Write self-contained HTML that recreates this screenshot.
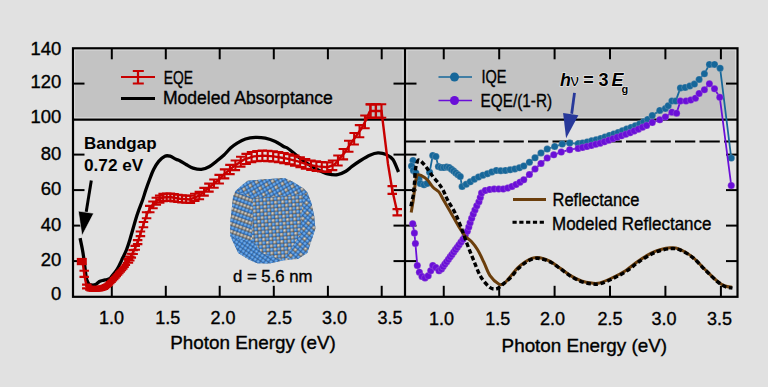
<!DOCTYPE html>
<html><head><meta charset="utf-8"><style>
html,body{margin:0;padding:0;background:#e1e1e1;width:768px;height:387px;overflow:hidden}
svg{display:block}
</style></head><body>
<svg width="768" height="387" viewBox="0 0 768 387">
<rect x="0" y="0" width="768" height="387" fill="#e1e1e1"/>
<rect x="74.5" y="49.8" width="661.5" height="68.3" fill="#c3c3c3" stroke="#ececec" stroke-width="1"/>
<path d="M403.2,50 V117.6 M406.8,50 V117.6" stroke="#e4e4e4" stroke-width="1"/>
<defs>
<radialGradient id="gb" cx="0.38" cy="0.35" r="0.7"><stop offset="0" stop-color="#8cc0f0"/><stop offset="0.55" stop-color="#3f84d2"/><stop offset="1" stop-color="#1d4f90"/></radialGradient>
<radialGradient id="gg" cx="0.38" cy="0.35" r="0.7"><stop offset="0" stop-color="#e2ded6"/><stop offset="0.55" stop-color="#959088"/><stop offset="1" stop-color="#4c4842"/></radialGradient>
<pattern id="pcheck" x="0" y="0" width="7.20" height="7.20" patternUnits="userSpaceOnUse" patternTransform="rotate(-4)"><rect width="7.20" height="7.20" fill="#5a6672"/><circle cx="1.80" cy="1.80" r="1.95" fill="url(#gb)"/><circle cx="5.40" cy="5.40" r="1.95" fill="url(#gb)"/><circle cx="5.40" cy="1.80" r="1.95" fill="url(#gg)"/><circle cx="1.80" cy="5.40" r="1.95" fill="url(#gg)"/></pattern>
<pattern id="pblue" x="0" y="0" width="3.60" height="3.60" patternUnits="userSpaceOnUse" patternTransform="rotate(35)"><rect width="3.60" height="3.60" fill="#5a6672"/><circle cx="1.80" cy="1.80" r="1.95" fill="url(#gb)"/></pattern>
<pattern id="pstripe" x="0" y="0" width="7.20" height="7.20" patternUnits="userSpaceOnUse" patternTransform="rotate(-30)"><rect width="7.20" height="7.20" fill="#5a6672"/><circle cx="1.80" cy="1.80" r="1.95" fill="url(#gb)"/><circle cx="5.40" cy="1.80" r="1.95" fill="url(#gb)"/><circle cx="1.80" cy="5.40" r="1.95" fill="url(#gg)"/><circle cx="5.40" cy="5.40" r="1.95" fill="url(#gb)"/></pattern>
<pattern id="pleft" x="0" y="0" width="3.60" height="7.20" patternUnits="userSpaceOnUse" patternTransform="rotate(20)"><rect width="3.60" height="7.20" fill="#5a6672"/><circle cx="1.80" cy="1.80" r="1.95" fill="url(#gg)"/><circle cx="1.80" cy="5.40" r="1.95" fill="url(#gb)"/></pattern>
<pattern id="pright" x="0" y="0" width="7.20" height="7.20" patternUnits="userSpaceOnUse" patternTransform="rotate(40)"><rect width="7.20" height="7.20" fill="#5a6672"/><circle cx="1.80" cy="1.80" r="1.95" fill="url(#gb)"/><circle cx="5.40" cy="5.40" r="1.95" fill="url(#gb)"/><circle cx="5.40" cy="1.80" r="1.95" fill="url(#gg)"/><circle cx="1.80" cy="5.40" r="1.95" fill="url(#gb)"/></pattern>
</defs>
<path d="M235.50,191.00 L242.30,184.90 L247.70,180.80 L262.60,179.40 L284.30,178.10 L292.40,181.50 L303.20,188.20 L307.30,192.30 L311.40,203.10 L314.10,215.40 L315.40,228.50 L312.70,236.80 L307.30,253.00 L297.80,259.10 L282.90,260.50 L269.40,263.60 L257.20,263.20 L249.10,259.80 L238.20,253.00 L230.10,235.40 L230.50,220.00 L231.50,211.30 L233.00,197.00 Z" fill="url(#pcheck)"/>
<path d="M235.50,191.00 L242.30,184.90 L247.70,180.80 L262.60,179.40 L284.30,178.10 L292.40,181.50 L303.20,188.20 L307.30,192.30 L303.00,195.00 L253.00,198.00 Z" fill="url(#pstripe)"/>
<path d="M235.50,191.00 L253.00,198.00 L252.00,240.00 L240.00,240.00 L230.10,235.40 L230.50,220.00 L231.50,211.30 L233.00,197.00 Z" fill="url(#pleft)"/>
<path d="M303.00,195.00 L307.30,192.30 L311.40,203.10 L314.10,215.40 L315.40,228.50 L312.70,236.80 L307.30,253.00 L297.80,259.10 L285.00,258.00 L300.00,235.00 Z" fill="url(#pright)"/>
<path d="M230.10,235.40 L240.00,240.00 L252.00,240.00 L262.00,253.00 L282.90,260.50 L269.40,263.60 L257.20,263.20 L249.10,259.80 L238.20,253.00 Z" fill="url(#pblue)"/>
<g stroke="#000" stroke-width="2.2" fill="none">
<rect x="73.0" y="48.3" width="664.5" height="248.5"/>
<line x1="405.0" y1="48.3" x2="405.0" y2="296.8"/>
<line x1="73.0" y1="119.6" x2="737.5" y2="119.6"/>
</g>
<g stroke="#000" stroke-width="2" fill="none">
<line x1="111.80" y1="296.8" x2="111.80" y2="285.8"/>
<line x1="111.80" y1="48.3" x2="111.80" y2="59.3"/>
<line x1="165.80" y1="296.8" x2="165.80" y2="285.8"/>
<line x1="165.80" y1="48.3" x2="165.80" y2="59.3"/>
<line x1="219.70" y1="296.8" x2="219.70" y2="285.8"/>
<line x1="219.70" y1="48.3" x2="219.70" y2="59.3"/>
<line x1="273.80" y1="296.8" x2="273.80" y2="285.8"/>
<line x1="273.80" y1="48.3" x2="273.80" y2="59.3"/>
<line x1="327.90" y1="296.8" x2="327.90" y2="285.8"/>
<line x1="327.90" y1="48.3" x2="327.90" y2="59.3"/>
<line x1="381.70" y1="296.8" x2="381.70" y2="285.8"/>
<line x1="381.70" y1="48.3" x2="381.70" y2="59.3"/>
<line x1="443.75" y1="296.8" x2="443.75" y2="285.8"/>
<line x1="443.75" y1="48.3" x2="443.75" y2="59.3"/>
<line x1="499.20" y1="296.8" x2="499.20" y2="285.8"/>
<line x1="499.20" y1="48.3" x2="499.20" y2="59.3"/>
<line x1="554.60" y1="296.8" x2="554.60" y2="285.8"/>
<line x1="554.60" y1="48.3" x2="554.60" y2="59.3"/>
<line x1="610.00" y1="296.8" x2="610.00" y2="285.8"/>
<line x1="610.00" y1="48.3" x2="610.00" y2="59.3"/>
<line x1="665.40" y1="296.8" x2="665.40" y2="285.8"/>
<line x1="665.40" y1="48.3" x2="665.40" y2="59.3"/>
<line x1="720.90" y1="296.8" x2="720.90" y2="285.8"/>
<line x1="720.90" y1="48.3" x2="720.90" y2="59.3"/>
<line x1="73.0" y1="83.60" x2="84.5" y2="83.60"/>
<line x1="393.5" y1="83.60" x2="416.5" y2="83.60"/>
<line x1="726.0" y1="83.60" x2="737.5" y2="83.60"/>
<line x1="73.0" y1="154.60" x2="84.5" y2="154.60"/>
<line x1="393.5" y1="154.60" x2="416.5" y2="154.60"/>
<line x1="726.0" y1="154.60" x2="737.5" y2="154.60"/>
<line x1="73.0" y1="190.10" x2="84.5" y2="190.10"/>
<line x1="393.5" y1="190.10" x2="416.5" y2="190.10"/>
<line x1="726.0" y1="190.10" x2="737.5" y2="190.10"/>
<line x1="73.0" y1="225.60" x2="84.5" y2="225.60"/>
<line x1="393.5" y1="225.60" x2="416.5" y2="225.60"/>
<line x1="726.0" y1="225.60" x2="737.5" y2="225.60"/>
<line x1="73.0" y1="261.10" x2="84.5" y2="261.10"/>
<line x1="393.5" y1="261.10" x2="416.5" y2="261.10"/>
<line x1="726.0" y1="261.10" x2="737.5" y2="261.10"/>
</g>
<path d="M80.10,238.20 C80.50,240.17 81.90,246.73 82.50,250.00 C83.10,253.27 83.30,254.97 83.70,257.80 C84.10,260.63 84.52,263.97 84.90,267.00 C85.28,270.03 85.67,273.83 86.00,276.00 C86.33,278.17 86.37,278.62 86.90,280.00 C87.43,281.38 88.42,283.47 89.20,284.30 C89.98,285.13 90.55,284.95 91.60,285.00 C92.65,285.05 94.20,285.18 95.50,284.60 C96.80,284.02 98.10,282.22 99.40,281.50 C100.70,280.78 102.02,280.62 103.30,280.30 C104.58,279.98 105.98,279.92 107.10,279.60 C108.22,279.28 109.25,278.93 110.00,278.40 C110.75,277.87 110.42,277.90 111.60,276.40 C112.78,274.90 115.42,272.12 117.10,269.40 C118.78,266.68 120.15,263.33 121.70,260.10 C123.25,256.87 125.05,253.35 126.40,250.00 C127.75,246.65 128.05,245.75 129.80,240.00 C131.55,234.25 134.77,222.17 136.90,215.50 C139.03,208.83 141.12,204.25 142.60,200.00 C144.08,195.75 144.67,193.33 145.80,190.00 C146.93,186.67 148.10,183.40 149.40,180.00 C150.70,176.60 152.05,172.70 153.60,169.60 C155.15,166.50 156.82,163.63 158.70,161.40 C160.58,159.17 163.00,157.07 164.90,156.20 C166.80,155.33 168.25,155.68 170.10,156.20 C171.95,156.72 174.38,158.55 176.00,159.30 C177.62,160.05 178.05,159.78 179.80,160.70 C181.55,161.62 184.28,163.57 186.50,164.80 C188.72,166.03 190.63,167.33 193.10,168.10 C195.57,168.87 198.55,169.67 201.30,169.40 C204.05,169.13 207.12,167.82 209.60,166.50 C212.08,165.18 213.80,163.42 216.20,161.50 C218.60,159.58 221.60,157.23 224.00,155.00 C226.40,152.77 228.40,150.07 230.60,148.10 C232.80,146.13 234.72,144.72 237.20,143.20 C239.68,141.68 242.47,139.97 245.50,139.00 C248.53,138.03 252.10,137.53 255.40,137.40 C258.70,137.27 261.98,137.52 265.30,138.20 C268.62,138.88 272.27,140.12 275.30,141.50 C278.33,142.88 281.38,145.33 283.50,146.50 C285.62,147.67 285.60,146.83 288.00,148.50 C290.40,150.17 294.60,153.93 297.90,156.50 C301.20,159.07 304.48,161.70 307.80,163.90 C311.12,166.10 314.48,168.05 317.80,169.70 C321.12,171.35 324.40,172.97 327.70,173.80 C331.00,174.63 334.57,175.12 337.60,174.70 C340.63,174.28 343.50,172.68 345.90,171.30 C348.30,169.92 349.68,168.12 352.00,166.40 C354.32,164.68 356.83,162.87 359.80,161.00 C362.77,159.13 366.77,156.55 369.80,155.20 C372.83,153.85 375.25,153.00 378.00,152.90 C380.75,152.80 383.82,153.50 386.30,154.60 C388.78,155.70 390.87,156.60 392.90,159.50 C394.93,162.40 397.57,169.92 398.50,172.00" stroke="#000" stroke-width="3.3" fill="none" stroke-linejoin="round" stroke-linecap="butt"/>
<g stroke="#c80000" fill="none">
<path d="M82.00,261.50 L83.20,266.00 L84.20,274.00 L85.50,281.00 L86.80,286.50 L89.00,288.50 L95.00,289.00 L102.00,288.30 L106.00,286.50 L110.00,283.00 L115.50,277.10 L120.00,272.00 L124.00,267.50 L127.50,262.50 L130.90,256.50 L135.00,248.30 L138.10,241.00 L142.00,229.00 L147.20,213.40 L151.00,207.00 L157.00,200.50 L163.00,197.50 L169.90,197.00 L179.80,198.70 L189.80,199.50 L199.70,195.40 L209.60,187.10 L217.90,180.50 L224.00,174.30 L233.90,166.30 L243.80,159.70 L253.80,156.40 L263.70,155.60 L273.60,156.40 L283.50,158.00 L288.00,158.90 L297.90,161.40 L307.80,164.70 L317.80,166.40 L327.70,167.20 L334.30,164.70 L339.30,158.90 L344.20,153.20 L349.90,144.60 L356.50,135.50 L361.50,128.50 L366.50,119.00 L369.50,112.00 L370.50,111.00 L376.00,111.00 L381.50,111.00 L388,164 L392.25,190 L397.25,212.25" stroke-width="2.4"/>
<rect x="76.8" y="257.9" width="10" height="7.3" fill="#c80000" stroke="none"/>
<path d="M86.80,284.60 V288.40 M82.05,284.60 h9.5 M82.05,288.40 h9.5" stroke-width="2.1"/>
<path d="M88.10,285.78 V289.58 M85.10,285.78 h6.0 M85.10,289.58 h6.0" stroke-width="2.1"/>
<path d="M89.40,286.63 V290.43 M86.40,286.63 h6.0 M86.40,290.43 h6.0" stroke-width="2.1"/>
<path d="M90.70,286.74 V290.54 M87.70,286.74 h6.0 M87.70,290.54 h6.0" stroke-width="2.1"/>
<path d="M92.00,286.85 V290.65 M89.00,286.85 h6.0 M89.00,290.65 h6.0" stroke-width="2.1"/>
<path d="M93.30,286.96 V290.76 M90.30,286.96 h6.0 M90.30,290.76 h6.0" stroke-width="2.1"/>
<path d="M94.60,287.07 V290.87 M91.60,287.07 h6.0 M91.60,290.87 h6.0" stroke-width="2.1"/>
<path d="M95.90,287.01 V290.81 M92.90,287.01 h6.0 M92.90,290.81 h6.0" stroke-width="2.1"/>
<path d="M97.20,286.88 V290.68 M94.20,286.88 h6.0 M94.20,290.68 h6.0" stroke-width="2.1"/>
<path d="M98.50,286.75 V290.55 M95.50,286.75 h6.0 M95.50,290.55 h6.0" stroke-width="2.1"/>
<path d="M99.80,286.62 V290.42 M96.80,286.62 h6.0 M96.80,290.42 h6.0" stroke-width="2.1"/>
<path d="M101.10,286.49 V290.29 M98.10,286.49 h6.0 M98.10,290.29 h6.0" stroke-width="2.1"/>
<path d="M102.40,286.22 V290.02 M99.40,286.22 h6.0 M99.40,290.02 h6.0" stroke-width="2.1"/>
<path d="M103.70,285.64 V289.44 M100.70,285.64 h6.0 M100.70,289.44 h6.0" stroke-width="2.1"/>
<path d="M105.00,285.05 V288.85 M102.00,285.05 h6.0 M102.00,288.85 h6.0" stroke-width="2.1"/>
<path d="M106.30,284.34 V288.14 M103.30,284.34 h6.0 M103.30,288.14 h6.0" stroke-width="2.1"/>
<path d="M107.60,283.20 V287.00 M104.60,283.20 h6.0 M104.60,287.00 h6.0" stroke-width="2.1"/>
<path d="M108.90,282.06 V285.86 M105.90,282.06 h6.0 M105.90,285.86 h6.0" stroke-width="2.1"/>
<path d="M110.20,280.89 V284.69 M107.20,280.89 h6.0 M107.20,284.69 h6.0" stroke-width="2.1"/>
<path d="M111.50,279.49 V283.29 M108.50,279.49 h6.0 M108.50,283.29 h6.0" stroke-width="2.1"/>
<path d="M112.80,278.10 V281.90 M109.80,278.10 h6.0 M109.80,281.90 h6.0" stroke-width="2.1"/>
<path d="M114.10,276.70 V280.50 M111.10,276.70 h6.0 M111.10,280.50 h6.0" stroke-width="2.1"/>
<path d="M115.40,275.31 V279.11 M112.40,275.31 h6.0 M112.40,279.11 h6.0" stroke-width="2.1"/>
<path d="M116.70,273.84 V277.64 M113.70,273.84 h6.0 M113.70,277.64 h6.0" stroke-width="2.1"/>
<path d="M118.00,272.37 V276.17 M115.00,272.37 h6.0 M115.00,276.17 h6.0" stroke-width="2.1"/>
<path d="M119.30,270.89 V274.69 M116.30,270.89 h6.0 M116.30,274.69 h6.0" stroke-width="2.1"/>
<path d="M120.60,269.43 V273.23 M117.60,269.43 h6.0 M117.60,273.23 h6.0" stroke-width="2.1"/>
<path d="M121.90,267.96 V271.76 M118.90,267.96 h6.0 M118.90,271.76 h6.0" stroke-width="2.1"/>
<path d="M123.20,266.50 V270.30 M120.20,266.50 h6.0 M120.20,270.30 h6.0" stroke-width="2.1"/>
<path d="M124.50,264.89 V268.69 M121.50,264.89 h6.0 M121.50,268.69 h6.0" stroke-width="2.1"/>
<path d="M125.80,263.03 V266.83 M122.80,263.03 h6.0 M122.80,266.83 h6.0" stroke-width="2.1"/>
<path d="M127.10,261.17 V264.97 M124.10,261.17 h6.0 M124.10,264.97 h6.0" stroke-width="2.1"/>
<path d="M128.40,259.01 V262.81 M123.65,259.01 h9.5 M123.65,262.81 h9.5" stroke-width="2.1"/>
<path d="M129.75,256.63 V260.43 M125.00,256.63 h9.5 M125.00,260.43 h9.5" stroke-width="2.1"/>
<path d="M131.31,253.78 V257.58 M126.56,253.78 h9.5 M126.56,257.58 h9.5" stroke-width="2.1"/>
<path d="M133.12,250.16 V253.96 M128.37,250.16 h9.5 M128.37,253.96 h9.5" stroke-width="2.1"/>
<path d="M135.21,245.90 V249.70 M130.46,245.90 h9.5 M130.46,249.70 h9.5" stroke-width="2.1"/>
<path d="M137.64,240.09 V244.09 M132.89,240.09 h9.5 M132.89,244.09 h9.5" stroke-width="2.1"/>
<path d="M140.44,231.49 V236.09 M135.69,231.49 h9.5 M135.69,236.09 h9.5" stroke-width="2.1"/>
<path d="M143.48,221.93 V227.21 M138.73,221.93 h9.5 M138.73,227.21 h9.5" stroke-width="2.1"/>
<path d="M146.58,212.28 V218.24 M141.83,212.28 h9.5 M141.83,218.24 h9.5" stroke-width="2.1"/>
<path d="M149.75,205.90 V212.31 M145.00,205.90 h9.5 M145.00,212.31 h9.5" stroke-width="2.1"/>
<path d="M152.99,201.48 V208.20 M148.24,201.48 h9.5 M148.24,208.20 h9.5" stroke-width="2.1"/>
<path d="M156.31,197.76 V204.74 M151.56,197.76 h9.5 M151.56,204.74 h9.5" stroke-width="2.1"/>
<path d="M159.69,195.58 V202.72 M154.94,195.58 h9.5 M154.94,202.72 h9.5" stroke-width="2.1"/>
<path d="M163.16,193.86 V201.12 M158.41,193.86 h9.5 M158.41,201.12 h9.5" stroke-width="2.1"/>
<path d="M166.70,193.59 V200.87 M161.95,193.59 h9.5 M161.95,200.87 h9.5" stroke-width="2.1"/>
<path d="M170.33,193.43 V200.72 M165.58,193.43 h9.5 M165.58,200.72 h9.5" stroke-width="2.1"/>
<path d="M174.07,194.10 V201.34 M169.32,194.10 h9.5 M169.32,201.34 h9.5" stroke-width="2.1"/>
<path d="M177.95,194.79 V201.98 M173.20,194.79 h9.5 M173.20,201.98 h9.5" stroke-width="2.1"/>
<path d="M181.95,195.29 V202.45 M177.20,195.29 h9.5 M177.20,202.45 h9.5" stroke-width="2.1"/>
<path d="M186.09,195.64 V202.77 M181.34,195.64 h9.5 M181.34,202.77 h9.5" stroke-width="2.1"/>
<path d="M190.37,195.70 V202.83 M185.62,195.70 h9.5 M185.62,202.83 h9.5" stroke-width="2.1"/>
<path d="M194.78,193.80 V201.07 M190.03,193.80 h9.5 M190.03,201.07 h9.5" stroke-width="2.1"/>
<path d="M199.35,191.84 V199.25 M194.60,191.84 h9.5 M194.60,199.25 h9.5" stroke-width="2.1"/>
<path d="M204.07,187.90 V195.58 M199.32,187.90 h9.5 M199.32,195.58 h9.5" stroke-width="2.1"/>
<path d="M208.94,183.66 V191.64 M204.19,183.66 h9.5 M204.19,191.64 h9.5" stroke-width="2.1"/>
<path d="M213.98,179.48 V187.76 M209.23,179.48 h9.5 M209.23,187.76 h9.5" stroke-width="2.1"/>
<path d="M219.18,174.89 V183.49 M214.43,174.89 h9.5 M214.43,183.49 h9.5" stroke-width="2.1"/>
<path d="M224.56,169.35 V178.34 M219.81,169.35 h9.5 M219.81,178.34 h9.5" stroke-width="2.1"/>
<path d="M229.96,164.83 V174.14 M225.21,164.83 h9.5 M225.21,174.14 h9.5" stroke-width="2.1"/>
<path d="M235.36,160.52 V170.13 M230.61,160.52 h9.5 M230.61,170.13 h9.5" stroke-width="2.1"/>
<path d="M240.76,156.78 V166.66 M236.01,156.78 h9.5 M236.01,166.66 h9.5" stroke-width="2.1"/>
<path d="M246.16,153.88 V163.96 M241.41,153.88 h9.5 M241.41,163.96 h9.5" stroke-width="2.1"/>
<path d="M251.56,152.03 V162.24 M246.81,152.03 h9.5 M246.81,162.24 h9.5" stroke-width="2.1"/>
<path d="M256.96,151.00 V161.29 M252.21,151.00 h9.5 M252.21,161.29 h9.5" stroke-width="2.1"/>
<path d="M262.36,150.55 V160.87 M257.61,150.55 h9.5 M257.61,160.87 h9.5" stroke-width="2.1"/>
<path d="M267.76,150.78 V161.08 M263.01,150.78 h9.5 M263.01,161.08 h9.5" stroke-width="2.1"/>
<path d="M273.16,151.23 V161.50 M268.41,151.23 h9.5 M268.41,161.50 h9.5" stroke-width="2.1"/>
<path d="M278.56,152.10 V162.31 M273.81,152.10 h9.5 M273.81,162.31 h9.5" stroke-width="2.1"/>
<path d="M283.96,153.02 V163.16 M279.21,153.02 h9.5 M279.21,163.16 h9.5" stroke-width="2.1"/>
<path d="M289.36,154.21 V164.27 M284.61,154.21 h9.5 M284.61,164.27 h9.5" stroke-width="2.1"/>
<path d="M294.76,155.63 V165.59 M290.01,155.63 h9.5 M290.01,165.59 h9.5" stroke-width="2.1"/>
<path d="M300.16,157.23 V167.08 M295.41,157.23 h9.5 M295.41,167.08 h9.5" stroke-width="2.1"/>
<path d="M305.56,159.10 V168.81 M300.81,159.10 h9.5 M300.81,168.81 h9.5" stroke-width="2.1"/>
<path d="M310.96,160.43 V170.05 M306.21,160.43 h9.5 M306.21,170.05 h9.5" stroke-width="2.1"/>
<path d="M316.36,161.38 V170.93 M311.61,161.38 h9.5 M311.61,170.93 h9.5" stroke-width="2.1"/>
<path d="M321.76,161.96 V171.48 M317.01,161.96 h9.5 M317.01,171.48 h9.5" stroke-width="2.1"/>
<path d="M327.16,162.42 V171.90 M322.41,162.42 h9.5 M322.41,171.90 h9.5" stroke-width="2.1"/>
<path d="M332.56,160.55 V170.16 M327.81,160.55 h9.5 M327.81,170.16 h9.5" stroke-width="2.1"/>
<path d="M337.96,155.46 V165.44 M333.21,155.46 h9.5 M333.21,165.44 h9.5" stroke-width="2.1"/>
<path d="M343.36,148.96 V159.39 M338.61,148.96 h9.5 M338.61,159.39 h9.5" stroke-width="2.1"/>
<path d="M348.76,140.81 V151.82 M344.01,140.81 h9.5 M344.01,151.82 h9.5" stroke-width="2.1"/>
<path d="M354.16,132.94 V144.50 M349.41,132.94 h9.5 M349.41,144.50 h9.5" stroke-width="2.1"/>
<path d="M359.56,125.15 V137.27 M354.81,125.15 h9.5 M354.81,137.27 h9.5" stroke-width="2.1"/>
<path d="M364.96,115.52 V128.31 M360.21,115.52 h9.5 M360.21,128.31 h9.5" stroke-width="2.1"/>
<path d="M370.36,104.34 V117.93 M365.61,104.34 h9.5 M365.61,117.93 h9.5" stroke-width="2.1"/>
<path d="M375.76,104.20 V117.80 M371.01,104.20 h9.5 M371.01,117.80 h9.5" stroke-width="2.1"/>
<path d="M370.50,104.20 V117.80 M365.75,104.20 h9.5 M365.75,117.80 h9.5" stroke-width="2.1"/>
<path d="M376.00,104.20 V117.80 M371.25,104.20 h9.5 M371.25,117.80 h9.5" stroke-width="2.1"/>
<path d="M381.50,104.20 V117.80 M376.75,104.20 h9.5 M376.75,117.80 h9.5" stroke-width="2.1"/>
<path d="M392.25,186.10 V193.90 M387.50,186.10 h9.5 M387.50,193.90 h9.5" stroke-width="2.1"/>
<path d="M397.25,209.16 V215.34 M392.50,209.16 h9.5 M392.50,215.34 h9.5" stroke-width="2.1"/>
<path d="M84.20,270.70 V276.90 M79.45,270.70 h9.5 M79.45,276.90 h9.5" stroke-width="2.1"/>
</g>
<path d="M91.3,180.5 L86.2,212" stroke="#000" stroke-width="3"/>
<path d="M78.3,211.1 L93.7,213.3 L82.0,235.8 Z" fill="#000" stroke="#f0f0f0" stroke-width="0.6"/>
<path d="M121,77 H155 M138,71 V83.5 M132.8,71 H143.8 M132.8,83.5 H143.8" stroke="#c80000" stroke-width="2.2" fill="none"/>
<path d="M121,98.6 H155" stroke="#000" stroke-width="3"/>
<path d="M405.5,141.5 H737" stroke="#000" stroke-width="2" stroke-dasharray="20.3 4.2"/>
<path d="M413.00,160.40 L411.50,166.00 L413.40,170.40 L415.90,172.90 L419.00,179.10 L420.25,183.50 L424.00,184.75 L427.10,183.50 L429.60,172.25 L432.75,155.40 L435.90,156.60 L438.40,166.60 L442.75,167.90 L447.75,166.60 L452.10,169.75 L456.50,173.50 L460.25,176.60 L462.10,186.60 L466.50,184.10 L471.50,181.00 L476.50,177.90 L481.50,175.75 L487.75,173.50 L494.00,171.00 L499.00,169.75 L501.25,170.90 L506.90,170.30 L512.50,169.40 L518.10,168.40 L523.75,166.00 L529.40,162.25 L535.00,157.75 L541.00,152.90 L547.20,149.10 L554.70,146.50 L562.20,144.10 L569.70,143.10 L578.10,143.70 L585.60,142.40 L593.10,140.50 L600.60,138.60 L607.50,136.00 L613.75,134.00 L620.00,132.00 L625.10,129.50 L631.60,127.25 L637.25,125.00 L642.90,122.20 L647.60,119.40 L652.25,115.60 L659.75,110.40 L665.40,108.50 L668.20,105.70 L671.90,101.00 L675.70,101.00 L680.40,87.90 L685.10,87.50 L689.75,86.00 L694.40,84.10 L699.10,79.40 L704.40,73.80 L709.40,64.40 L714.50,64.40 L720.10,68.20 L731.25,158.00" stroke="#16679a" stroke-width="1.8" fill="none"/>
<circle cx="413.00" cy="160.40" r="3.5" fill="#16679a" stroke="#d8d0d0" stroke-opacity="0.35" stroke-width="0.6"/>
<circle cx="411.50" cy="166.00" r="3.5" fill="#16679a" stroke="#d8d0d0" stroke-opacity="0.35" stroke-width="0.6"/>
<circle cx="413.40" cy="170.40" r="3.5" fill="#16679a" stroke="#d8d0d0" stroke-opacity="0.35" stroke-width="0.6"/>
<circle cx="415.90" cy="172.90" r="3.5" fill="#16679a" stroke="#d8d0d0" stroke-opacity="0.35" stroke-width="0.6"/>
<circle cx="419.00" cy="179.10" r="3.5" fill="#16679a" stroke="#d8d0d0" stroke-opacity="0.35" stroke-width="0.6"/>
<circle cx="420.25" cy="183.50" r="3.5" fill="#16679a" stroke="#d8d0d0" stroke-opacity="0.35" stroke-width="0.6"/>
<circle cx="424.00" cy="184.75" r="3.5" fill="#16679a" stroke="#d8d0d0" stroke-opacity="0.35" stroke-width="0.6"/>
<circle cx="427.10" cy="183.50" r="3.5" fill="#16679a" stroke="#d8d0d0" stroke-opacity="0.35" stroke-width="0.6"/>
<circle cx="429.60" cy="172.25" r="3.5" fill="#16679a" stroke="#d8d0d0" stroke-opacity="0.35" stroke-width="0.6"/>
<circle cx="432.75" cy="155.40" r="3.5" fill="#16679a" stroke="#d8d0d0" stroke-opacity="0.35" stroke-width="0.6"/>
<circle cx="435.90" cy="156.60" r="3.5" fill="#16679a" stroke="#d8d0d0" stroke-opacity="0.35" stroke-width="0.6"/>
<circle cx="438.40" cy="166.60" r="3.5" fill="#16679a" stroke="#d8d0d0" stroke-opacity="0.35" stroke-width="0.6"/>
<circle cx="441.14" cy="167.42" r="3.5" fill="#16679a" stroke="#d8d0d0" stroke-opacity="0.35" stroke-width="0.6"/>
<circle cx="443.89" cy="167.60" r="3.5" fill="#16679a" stroke="#d8d0d0" stroke-opacity="0.35" stroke-width="0.6"/>
<circle cx="446.65" cy="166.88" r="3.5" fill="#16679a" stroke="#d8d0d0" stroke-opacity="0.35" stroke-width="0.6"/>
<circle cx="449.15" cy="167.61" r="3.5" fill="#16679a" stroke="#d8d0d0" stroke-opacity="0.35" stroke-width="0.6"/>
<circle cx="451.46" cy="169.29" r="3.5" fill="#16679a" stroke="#d8d0d0" stroke-opacity="0.35" stroke-width="0.6"/>
<circle cx="453.68" cy="171.09" r="3.5" fill="#16679a" stroke="#d8d0d0" stroke-opacity="0.35" stroke-width="0.6"/>
<circle cx="455.85" cy="172.95" r="3.5" fill="#16679a" stroke="#d8d0d0" stroke-opacity="0.35" stroke-width="0.6"/>
<circle cx="458.05" cy="174.78" r="3.5" fill="#16679a" stroke="#d8d0d0" stroke-opacity="0.35" stroke-width="0.6"/>
<circle cx="460.25" cy="176.60" r="3.5" fill="#16679a" stroke="#d8d0d0" stroke-opacity="0.35" stroke-width="0.6"/>
<circle cx="462.10" cy="186.60" r="3.5" fill="#16679a" stroke="#d8d0d0" stroke-opacity="0.35" stroke-width="0.6"/>
<circle cx="466.23" cy="184.25" r="3.5" fill="#16679a" stroke="#d8d0d0" stroke-opacity="0.35" stroke-width="0.6"/>
<circle cx="470.27" cy="181.76" r="3.5" fill="#16679a" stroke="#d8d0d0" stroke-opacity="0.35" stroke-width="0.6"/>
<circle cx="474.31" cy="179.26" r="3.5" fill="#16679a" stroke="#d8d0d0" stroke-opacity="0.35" stroke-width="0.6"/>
<circle cx="478.50" cy="177.04" r="3.5" fill="#16679a" stroke="#d8d0d0" stroke-opacity="0.35" stroke-width="0.6"/>
<circle cx="482.89" cy="175.25" r="3.5" fill="#16679a" stroke="#d8d0d0" stroke-opacity="0.35" stroke-width="0.6"/>
<circle cx="487.36" cy="173.64" r="3.5" fill="#16679a" stroke="#d8d0d0" stroke-opacity="0.35" stroke-width="0.6"/>
<circle cx="491.78" cy="171.89" r="3.5" fill="#16679a" stroke="#d8d0d0" stroke-opacity="0.35" stroke-width="0.6"/>
<circle cx="496.29" cy="170.43" r="3.5" fill="#16679a" stroke="#d8d0d0" stroke-opacity="0.35" stroke-width="0.6"/>
<circle cx="500.74" cy="170.64" r="3.5" fill="#16679a" stroke="#d8d0d0" stroke-opacity="0.35" stroke-width="0.6"/>
<circle cx="505.41" cy="170.46" r="3.5" fill="#16679a" stroke="#d8d0d0" stroke-opacity="0.35" stroke-width="0.6"/>
<circle cx="510.11" cy="169.78" r="3.5" fill="#16679a" stroke="#d8d0d0" stroke-opacity="0.35" stroke-width="0.6"/>
<circle cx="514.79" cy="168.99" r="3.5" fill="#16679a" stroke="#d8d0d0" stroke-opacity="0.35" stroke-width="0.6"/>
<circle cx="519.38" cy="167.86" r="3.5" fill="#16679a" stroke="#d8d0d0" stroke-opacity="0.35" stroke-width="0.6"/>
<circle cx="523.75" cy="166.00" r="3.5" fill="#16679a" stroke="#d8d0d0" stroke-opacity="0.35" stroke-width="0.6"/>
<circle cx="529.40" cy="162.25" r="3.5" fill="#16679a" stroke="#d8d0d0" stroke-opacity="0.35" stroke-width="0.6"/>
<circle cx="535.00" cy="157.75" r="3.5" fill="#16679a" stroke="#d8d0d0" stroke-opacity="0.35" stroke-width="0.6"/>
<circle cx="541.00" cy="152.90" r="3.5" fill="#16679a" stroke="#d8d0d0" stroke-opacity="0.35" stroke-width="0.6"/>
<circle cx="547.20" cy="149.10" r="3.5" fill="#16679a" stroke="#d8d0d0" stroke-opacity="0.35" stroke-width="0.6"/>
<circle cx="554.70" cy="146.50" r="3.5" fill="#16679a" stroke="#d8d0d0" stroke-opacity="0.35" stroke-width="0.6"/>
<circle cx="562.20" cy="144.10" r="3.5" fill="#16679a" stroke="#d8d0d0" stroke-opacity="0.35" stroke-width="0.6"/>
<circle cx="569.70" cy="143.10" r="3.5" fill="#16679a" stroke="#d8d0d0" stroke-opacity="0.35" stroke-width="0.6"/>
<circle cx="578.10" cy="143.70" r="3.5" fill="#16679a" stroke="#d8d0d0" stroke-opacity="0.35" stroke-width="0.6"/>
<circle cx="582.66" cy="142.91" r="3.5" fill="#16679a" stroke="#d8d0d0" stroke-opacity="0.35" stroke-width="0.6"/>
<circle cx="587.19" cy="142.00" r="3.5" fill="#16679a" stroke="#d8d0d0" stroke-opacity="0.35" stroke-width="0.6"/>
<circle cx="591.67" cy="140.86" r="3.5" fill="#16679a" stroke="#d8d0d0" stroke-opacity="0.35" stroke-width="0.6"/>
<circle cx="596.15" cy="139.73" r="3.5" fill="#16679a" stroke="#d8d0d0" stroke-opacity="0.35" stroke-width="0.6"/>
<circle cx="600.64" cy="138.59" r="3.5" fill="#16679a" stroke="#d8d0d0" stroke-opacity="0.35" stroke-width="0.6"/>
<circle cx="604.96" cy="136.96" r="3.5" fill="#16679a" stroke="#d8d0d0" stroke-opacity="0.35" stroke-width="0.6"/>
<circle cx="609.32" cy="135.42" r="3.5" fill="#16679a" stroke="#d8d0d0" stroke-opacity="0.35" stroke-width="0.6"/>
<circle cx="613.73" cy="134.01" r="3.5" fill="#16679a" stroke="#d8d0d0" stroke-opacity="0.35" stroke-width="0.6"/>
<circle cx="618.13" cy="132.60" r="3.5" fill="#16679a" stroke="#d8d0d0" stroke-opacity="0.35" stroke-width="0.6"/>
<circle cx="622.39" cy="130.83" r="3.5" fill="#16679a" stroke="#d8d0d0" stroke-opacity="0.35" stroke-width="0.6"/>
<circle cx="626.62" cy="128.97" r="3.5" fill="#16679a" stroke="#d8d0d0" stroke-opacity="0.35" stroke-width="0.6"/>
<circle cx="630.99" cy="127.46" r="3.5" fill="#16679a" stroke="#d8d0d0" stroke-opacity="0.35" stroke-width="0.6"/>
<circle cx="635.30" cy="125.78" r="3.5" fill="#16679a" stroke="#d8d0d0" stroke-opacity="0.35" stroke-width="0.6"/>
<circle cx="639.51" cy="123.88" r="3.5" fill="#16679a" stroke="#d8d0d0" stroke-opacity="0.35" stroke-width="0.6"/>
<circle cx="643.63" cy="121.77" r="3.5" fill="#16679a" stroke="#d8d0d0" stroke-opacity="0.35" stroke-width="0.6"/>
<circle cx="647.60" cy="119.40" r="3.5" fill="#16679a" stroke="#d8d0d0" stroke-opacity="0.35" stroke-width="0.6"/>
<circle cx="652.25" cy="115.60" r="3.5" fill="#16679a" stroke="#d8d0d0" stroke-opacity="0.35" stroke-width="0.6"/>
<circle cx="659.75" cy="110.40" r="3.5" fill="#16679a" stroke="#d8d0d0" stroke-opacity="0.35" stroke-width="0.6"/>
<circle cx="665.40" cy="108.50" r="3.5" fill="#16679a" stroke="#d8d0d0" stroke-opacity="0.35" stroke-width="0.6"/>
<circle cx="668.20" cy="105.70" r="3.5" fill="#16679a" stroke="#d8d0d0" stroke-opacity="0.35" stroke-width="0.6"/>
<circle cx="671.90" cy="101.00" r="3.5" fill="#16679a" stroke="#d8d0d0" stroke-opacity="0.35" stroke-width="0.6"/>
<circle cx="675.70" cy="101.00" r="3.5" fill="#16679a" stroke="#d8d0d0" stroke-opacity="0.35" stroke-width="0.6"/>
<circle cx="680.40" cy="87.90" r="3.5" fill="#16679a" stroke="#d8d0d0" stroke-opacity="0.35" stroke-width="0.6"/>
<circle cx="685.10" cy="87.50" r="3.5" fill="#16679a" stroke="#d8d0d0" stroke-opacity="0.35" stroke-width="0.6"/>
<circle cx="689.75" cy="86.00" r="3.5" fill="#16679a" stroke="#d8d0d0" stroke-opacity="0.35" stroke-width="0.6"/>
<circle cx="694.40" cy="84.10" r="3.5" fill="#16679a" stroke="#d8d0d0" stroke-opacity="0.35" stroke-width="0.6"/>
<circle cx="699.10" cy="79.40" r="3.5" fill="#16679a" stroke="#d8d0d0" stroke-opacity="0.35" stroke-width="0.6"/>
<circle cx="704.40" cy="73.80" r="3.5" fill="#16679a" stroke="#d8d0d0" stroke-opacity="0.35" stroke-width="0.6"/>
<circle cx="709.40" cy="64.40" r="3.5" fill="#16679a" stroke="#d8d0d0" stroke-opacity="0.35" stroke-width="0.6"/>
<circle cx="714.50" cy="64.40" r="3.5" fill="#16679a" stroke="#d8d0d0" stroke-opacity="0.35" stroke-width="0.6"/>
<circle cx="720.10" cy="68.20" r="3.5" fill="#16679a" stroke="#d8d0d0" stroke-opacity="0.35" stroke-width="0.6"/>
<circle cx="731.25" cy="158.00" r="3.5" fill="#16679a" stroke="#d8d0d0" stroke-opacity="0.35" stroke-width="0.6"/>
<path d="M412.70,223.80 L414.40,233.10 L415.40,243.50 L417.30,265.50 L419.40,272.20 L422.00,276.40 L425.00,277.90 L428.20,275.80 L430.70,270.70 L432.80,265.50 L435.90,267.60 L439.00,270.70 L442.00,268.60 L443.30,266.30 L445.27,263.60 L447.24,260.90 L449.21,258.20 L451.18,255.50 L453.15,252.80 L455.12,250.10 L457.09,247.40 L459.06,244.70 L461.03,242.00 L463.00,239.30 L467.70,230.60 L470.40,221.70 L473.10,214.50 L476.00,207.20 L479.30,201.00 L481.60,192.80 L486.25,190.00 L491.90,189.10 L497.50,189.10 L503.10,189.10 L507.80,188.10 L513.40,185.90 L518.10,183.40 L523.75,179.70 L529.40,174.60 L535.00,169.00 L541.00,163.40 L547.20,158.10 L553.75,154.75 L561.25,152.10 L569.70,149.70 L578.10,148.40 L585.60,146.90 L593.10,145.00 L600.60,143.10 L608.00,140.50 L615.00,138.00 L621.00,136.00 L627.50,133.75 L634.00,131.00 L641.00,128.00 L646.60,125.40 L652.25,122.60 L659.75,119.75 L665.40,116.90 L671.90,112.25 L676.60,113.20 L680.40,101.00 L686.00,101.00 L690.70,100.10 L695.40,98.20 L699.10,93.50 L704.40,89.75 L709.40,83.75 L714.50,88.80 L719.75,97.25 L731.25,185.50" stroke="#6a0fd8" stroke-width="1.8" fill="none"/>
<circle cx="412.70" cy="223.80" r="3.5" fill="#6a0fd8" stroke="#d8d0d0" stroke-opacity="0.35" stroke-width="0.6"/>
<circle cx="414.40" cy="233.10" r="3.5" fill="#6a0fd8" stroke="#d8d0d0" stroke-opacity="0.35" stroke-width="0.6"/>
<circle cx="415.40" cy="243.50" r="3.5" fill="#6a0fd8" stroke="#d8d0d0" stroke-opacity="0.35" stroke-width="0.6"/>
<circle cx="417.30" cy="265.50" r="3.5" fill="#6a0fd8" stroke="#d8d0d0" stroke-opacity="0.35" stroke-width="0.6"/>
<circle cx="419.40" cy="272.20" r="3.5" fill="#6a0fd8" stroke="#d8d0d0" stroke-opacity="0.35" stroke-width="0.6"/>
<circle cx="422.00" cy="276.40" r="3.5" fill="#6a0fd8" stroke="#d8d0d0" stroke-opacity="0.35" stroke-width="0.6"/>
<circle cx="425.00" cy="277.90" r="3.5" fill="#6a0fd8" stroke="#d8d0d0" stroke-opacity="0.35" stroke-width="0.6"/>
<circle cx="428.20" cy="275.80" r="3.5" fill="#6a0fd8" stroke="#d8d0d0" stroke-opacity="0.35" stroke-width="0.6"/>
<circle cx="430.70" cy="270.70" r="3.5" fill="#6a0fd8" stroke="#d8d0d0" stroke-opacity="0.35" stroke-width="0.6"/>
<circle cx="432.80" cy="265.50" r="3.5" fill="#6a0fd8" stroke="#d8d0d0" stroke-opacity="0.35" stroke-width="0.6"/>
<circle cx="435.90" cy="267.60" r="3.5" fill="#6a0fd8" stroke="#d8d0d0" stroke-opacity="0.35" stroke-width="0.6"/>
<circle cx="439.00" cy="270.70" r="3.5" fill="#6a0fd8" stroke="#d8d0d0" stroke-opacity="0.35" stroke-width="0.6"/>
<circle cx="441.46" cy="268.98" r="3.5" fill="#6a0fd8" stroke="#d8d0d0" stroke-opacity="0.35" stroke-width="0.6"/>
<circle cx="443.15" cy="266.56" r="3.5" fill="#6a0fd8" stroke="#d8d0d0" stroke-opacity="0.35" stroke-width="0.6"/>
<circle cx="444.90" cy="264.11" r="3.5" fill="#6a0fd8" stroke="#d8d0d0" stroke-opacity="0.35" stroke-width="0.6"/>
<circle cx="446.67" cy="261.69" r="3.5" fill="#6a0fd8" stroke="#d8d0d0" stroke-opacity="0.35" stroke-width="0.6"/>
<circle cx="448.44" cy="259.26" r="3.5" fill="#6a0fd8" stroke="#d8d0d0" stroke-opacity="0.35" stroke-width="0.6"/>
<circle cx="450.21" cy="256.83" r="3.5" fill="#6a0fd8" stroke="#d8d0d0" stroke-opacity="0.35" stroke-width="0.6"/>
<circle cx="451.98" cy="254.41" r="3.5" fill="#6a0fd8" stroke="#d8d0d0" stroke-opacity="0.35" stroke-width="0.6"/>
<circle cx="453.75" cy="251.98" r="3.5" fill="#6a0fd8" stroke="#d8d0d0" stroke-opacity="0.35" stroke-width="0.6"/>
<circle cx="455.52" cy="249.55" r="3.5" fill="#6a0fd8" stroke="#d8d0d0" stroke-opacity="0.35" stroke-width="0.6"/>
<circle cx="457.29" cy="247.13" r="3.5" fill="#6a0fd8" stroke="#d8d0d0" stroke-opacity="0.35" stroke-width="0.6"/>
<circle cx="459.06" cy="244.70" r="3.5" fill="#6a0fd8" stroke="#d8d0d0" stroke-opacity="0.35" stroke-width="0.6"/>
<circle cx="461.03" cy="242.00" r="3.5" fill="#6a0fd8" stroke="#d8d0d0" stroke-opacity="0.35" stroke-width="0.6"/>
<circle cx="463.00" cy="239.30" r="3.5" fill="#6a0fd8" stroke="#d8d0d0" stroke-opacity="0.35" stroke-width="0.6"/>
<circle cx="465.16" cy="235.30" r="3.5" fill="#6a0fd8" stroke="#d8d0d0" stroke-opacity="0.35" stroke-width="0.6"/>
<circle cx="467.32" cy="231.30" r="3.5" fill="#6a0fd8" stroke="#d8d0d0" stroke-opacity="0.35" stroke-width="0.6"/>
<circle cx="468.79" cy="227.00" r="3.5" fill="#6a0fd8" stroke="#d8d0d0" stroke-opacity="0.35" stroke-width="0.6"/>
<circle cx="470.11" cy="222.65" r="3.5" fill="#6a0fd8" stroke="#d8d0d0" stroke-opacity="0.35" stroke-width="0.6"/>
<circle cx="471.65" cy="218.37" r="3.5" fill="#6a0fd8" stroke="#d8d0d0" stroke-opacity="0.35" stroke-width="0.6"/>
<circle cx="473.25" cy="214.12" r="3.5" fill="#6a0fd8" stroke="#d8d0d0" stroke-opacity="0.35" stroke-width="0.6"/>
<circle cx="474.93" cy="209.89" r="3.5" fill="#6a0fd8" stroke="#d8d0d0" stroke-opacity="0.35" stroke-width="0.6"/>
<circle cx="476.78" cy="205.74" r="3.5" fill="#6a0fd8" stroke="#d8d0d0" stroke-opacity="0.35" stroke-width="0.6"/>
<circle cx="478.92" cy="201.72" r="3.5" fill="#6a0fd8" stroke="#d8d0d0" stroke-opacity="0.35" stroke-width="0.6"/>
<circle cx="480.31" cy="197.41" r="3.5" fill="#6a0fd8" stroke="#d8d0d0" stroke-opacity="0.35" stroke-width="0.6"/>
<circle cx="481.54" cy="193.03" r="3.5" fill="#6a0fd8" stroke="#d8d0d0" stroke-opacity="0.35" stroke-width="0.6"/>
<circle cx="485.29" cy="190.58" r="3.5" fill="#6a0fd8" stroke="#d8d0d0" stroke-opacity="0.35" stroke-width="0.6"/>
<circle cx="489.64" cy="189.46" r="3.5" fill="#6a0fd8" stroke="#d8d0d0" stroke-opacity="0.35" stroke-width="0.6"/>
<circle cx="494.16" cy="189.10" r="3.5" fill="#6a0fd8" stroke="#d8d0d0" stroke-opacity="0.35" stroke-width="0.6"/>
<circle cx="498.71" cy="189.10" r="3.5" fill="#6a0fd8" stroke="#d8d0d0" stroke-opacity="0.35" stroke-width="0.6"/>
<circle cx="503.25" cy="189.07" r="3.5" fill="#6a0fd8" stroke="#d8d0d0" stroke-opacity="0.35" stroke-width="0.6"/>
<circle cx="507.70" cy="188.12" r="3.5" fill="#6a0fd8" stroke="#d8d0d0" stroke-opacity="0.35" stroke-width="0.6"/>
<circle cx="511.94" cy="186.47" r="3.5" fill="#6a0fd8" stroke="#d8d0d0" stroke-opacity="0.35" stroke-width="0.6"/>
<circle cx="516.03" cy="184.50" r="3.5" fill="#6a0fd8" stroke="#d8d0d0" stroke-opacity="0.35" stroke-width="0.6"/>
<circle cx="519.94" cy="182.19" r="3.5" fill="#6a0fd8" stroke="#d8d0d0" stroke-opacity="0.35" stroke-width="0.6"/>
<circle cx="523.75" cy="179.70" r="3.5" fill="#6a0fd8" stroke="#d8d0d0" stroke-opacity="0.35" stroke-width="0.6"/>
<circle cx="529.40" cy="174.60" r="3.5" fill="#6a0fd8" stroke="#d8d0d0" stroke-opacity="0.35" stroke-width="0.6"/>
<circle cx="535.00" cy="169.00" r="3.5" fill="#6a0fd8" stroke="#d8d0d0" stroke-opacity="0.35" stroke-width="0.6"/>
<circle cx="541.00" cy="163.40" r="3.5" fill="#6a0fd8" stroke="#d8d0d0" stroke-opacity="0.35" stroke-width="0.6"/>
<circle cx="547.20" cy="158.10" r="3.5" fill="#6a0fd8" stroke="#d8d0d0" stroke-opacity="0.35" stroke-width="0.6"/>
<circle cx="553.75" cy="154.75" r="3.5" fill="#6a0fd8" stroke="#d8d0d0" stroke-opacity="0.35" stroke-width="0.6"/>
<circle cx="561.25" cy="152.10" r="3.5" fill="#6a0fd8" stroke="#d8d0d0" stroke-opacity="0.35" stroke-width="0.6"/>
<circle cx="569.70" cy="149.70" r="3.5" fill="#6a0fd8" stroke="#d8d0d0" stroke-opacity="0.35" stroke-width="0.6"/>
<circle cx="578.10" cy="148.40" r="3.5" fill="#6a0fd8" stroke="#d8d0d0" stroke-opacity="0.35" stroke-width="0.6"/>
<circle cx="582.54" cy="147.51" r="3.5" fill="#6a0fd8" stroke="#d8d0d0" stroke-opacity="0.35" stroke-width="0.6"/>
<circle cx="586.96" cy="146.55" r="3.5" fill="#6a0fd8" stroke="#d8d0d0" stroke-opacity="0.35" stroke-width="0.6"/>
<circle cx="591.35" cy="145.44" r="3.5" fill="#6a0fd8" stroke="#d8d0d0" stroke-opacity="0.35" stroke-width="0.6"/>
<circle cx="595.74" cy="144.33" r="3.5" fill="#6a0fd8" stroke="#d8d0d0" stroke-opacity="0.35" stroke-width="0.6"/>
<circle cx="600.13" cy="143.22" r="3.5" fill="#6a0fd8" stroke="#d8d0d0" stroke-opacity="0.35" stroke-width="0.6"/>
<circle cx="604.42" cy="141.76" r="3.5" fill="#6a0fd8" stroke="#d8d0d0" stroke-opacity="0.35" stroke-width="0.6"/>
<circle cx="608.69" cy="140.25" r="3.5" fill="#6a0fd8" stroke="#d8d0d0" stroke-opacity="0.35" stroke-width="0.6"/>
<circle cx="612.95" cy="138.73" r="3.5" fill="#6a0fd8" stroke="#d8d0d0" stroke-opacity="0.35" stroke-width="0.6"/>
<circle cx="617.23" cy="137.26" r="3.5" fill="#6a0fd8" stroke="#d8d0d0" stroke-opacity="0.35" stroke-width="0.6"/>
<circle cx="621.53" cy="135.82" r="3.5" fill="#6a0fd8" stroke="#d8d0d0" stroke-opacity="0.35" stroke-width="0.6"/>
<circle cx="625.81" cy="134.34" r="3.5" fill="#6a0fd8" stroke="#d8d0d0" stroke-opacity="0.35" stroke-width="0.6"/>
<circle cx="630.02" cy="132.68" r="3.5" fill="#6a0fd8" stroke="#d8d0d0" stroke-opacity="0.35" stroke-width="0.6"/>
<circle cx="634.19" cy="130.92" r="3.5" fill="#6a0fd8" stroke="#d8d0d0" stroke-opacity="0.35" stroke-width="0.6"/>
<circle cx="638.35" cy="129.14" r="3.5" fill="#6a0fd8" stroke="#d8d0d0" stroke-opacity="0.35" stroke-width="0.6"/>
<circle cx="642.49" cy="127.31" r="3.5" fill="#6a0fd8" stroke="#d8d0d0" stroke-opacity="0.35" stroke-width="0.6"/>
<circle cx="646.60" cy="125.40" r="3.5" fill="#6a0fd8" stroke="#d8d0d0" stroke-opacity="0.35" stroke-width="0.6"/>
<circle cx="652.25" cy="122.60" r="3.5" fill="#6a0fd8" stroke="#d8d0d0" stroke-opacity="0.35" stroke-width="0.6"/>
<circle cx="659.75" cy="119.75" r="3.5" fill="#6a0fd8" stroke="#d8d0d0" stroke-opacity="0.35" stroke-width="0.6"/>
<circle cx="665.40" cy="116.90" r="3.5" fill="#6a0fd8" stroke="#d8d0d0" stroke-opacity="0.35" stroke-width="0.6"/>
<circle cx="671.90" cy="112.25" r="3.5" fill="#6a0fd8" stroke="#d8d0d0" stroke-opacity="0.35" stroke-width="0.6"/>
<circle cx="676.60" cy="113.20" r="3.5" fill="#6a0fd8" stroke="#d8d0d0" stroke-opacity="0.35" stroke-width="0.6"/>
<circle cx="680.40" cy="101.00" r="3.5" fill="#6a0fd8" stroke="#d8d0d0" stroke-opacity="0.35" stroke-width="0.6"/>
<circle cx="686.00" cy="101.00" r="3.5" fill="#6a0fd8" stroke="#d8d0d0" stroke-opacity="0.35" stroke-width="0.6"/>
<circle cx="690.70" cy="100.10" r="3.5" fill="#6a0fd8" stroke="#d8d0d0" stroke-opacity="0.35" stroke-width="0.6"/>
<circle cx="695.40" cy="98.20" r="3.5" fill="#6a0fd8" stroke="#d8d0d0" stroke-opacity="0.35" stroke-width="0.6"/>
<circle cx="699.10" cy="93.50" r="3.5" fill="#6a0fd8" stroke="#d8d0d0" stroke-opacity="0.35" stroke-width="0.6"/>
<circle cx="704.40" cy="89.75" r="3.5" fill="#6a0fd8" stroke="#d8d0d0" stroke-opacity="0.35" stroke-width="0.6"/>
<circle cx="709.40" cy="83.75" r="3.5" fill="#6a0fd8" stroke="#d8d0d0" stroke-opacity="0.35" stroke-width="0.6"/>
<circle cx="714.50" cy="88.80" r="3.5" fill="#6a0fd8" stroke="#d8d0d0" stroke-opacity="0.35" stroke-width="0.6"/>
<circle cx="719.75" cy="97.25" r="3.5" fill="#6a0fd8" stroke="#d8d0d0" stroke-opacity="0.35" stroke-width="0.6"/>
<circle cx="731.25" cy="185.50" r="3.5" fill="#6a0fd8" stroke="#d8d0d0" stroke-opacity="0.35" stroke-width="0.6"/>
<path d="M411.20,212.40 C411.55,210.33 412.85,202.90 413.30,200.00 C413.75,197.10 413.52,198.10 413.90,195.00 C414.28,191.90 415.02,184.73 415.60,181.40 C416.18,178.07 416.43,175.97 417.40,175.00 C418.37,174.03 419.75,174.82 421.40,175.60 C423.05,176.38 425.37,177.77 427.30,179.70 C429.23,181.63 431.07,185.17 433.00,187.20 C434.93,189.23 437.15,189.77 438.90,191.90 C440.65,194.03 441.53,196.58 443.50,200.00 C445.47,203.42 448.12,207.90 450.70,212.40 C453.28,216.90 456.58,223.03 459.00,227.00 C461.42,230.97 463.13,233.80 465.20,236.20 C467.27,238.60 469.33,239.15 471.40,241.40 C473.47,243.65 475.53,246.25 477.60,249.70 C479.67,253.15 481.73,257.78 483.80,262.10 C485.87,266.42 487.51,271.95 490.00,275.60 C492.49,279.25 496.46,282.64 498.75,284.00 C501.04,285.36 501.88,284.93 503.75,283.75 C505.62,282.57 507.71,279.51 510.00,276.90 C512.29,274.29 515.00,270.60 517.50,268.10 C520.00,265.60 522.50,263.57 525.00,261.90 C527.50,260.23 530.00,258.78 532.50,258.10 C535.00,257.42 537.03,257.25 540.00,257.80 C542.97,258.35 546.85,259.60 550.30,261.40 C553.75,263.20 557.25,266.18 560.70,268.60 C564.15,271.02 567.55,273.83 571.00,275.90 C574.45,277.97 577.95,279.80 581.40,281.00 C584.85,282.20 588.60,282.78 591.70,283.10 C594.80,283.42 596.47,283.83 600.00,282.90 C603.53,281.97 608.58,279.58 612.90,277.50 C617.22,275.42 621.58,273.20 625.90,270.40 C630.22,267.60 634.50,263.62 638.80,260.70 C643.10,257.78 648.17,254.73 651.70,252.90 C655.23,251.07 656.90,250.55 660.00,249.70 C663.10,248.85 667.07,247.90 670.30,247.80 C673.53,247.70 675.73,247.60 679.40,249.10 C683.07,250.60 687.98,253.35 692.30,256.80 C696.62,260.25 701.20,265.80 705.30,269.80 C709.40,273.80 713.62,278.10 716.90,280.80 C720.18,283.50 722.48,284.93 725.00,286.00 C727.52,287.07 730.83,287.04 732.00,287.25" stroke="#6b3e0c" stroke-width="3.0" fill="none"/>
<path d="M410.90,206.25 C411.21,204.79 412.35,199.38 412.75,197.50 C413.15,195.62 413.01,197.48 413.30,195.00 C413.59,192.52 414.12,187.00 414.50,182.60 C414.88,178.20 415.02,172.28 415.60,168.60 C416.18,164.92 417.03,161.67 418.00,160.50 C418.97,159.33 419.85,160.25 421.40,161.60 C422.95,162.95 425.37,166.08 427.30,168.60 C429.23,171.12 431.07,174.18 433.00,176.70 C434.93,179.22 437.23,181.48 438.90,183.70 C440.57,185.92 441.55,187.28 443.00,190.00 C444.45,192.72 445.63,196.27 447.60,200.00 C449.57,203.73 452.57,207.90 454.80,212.40 C457.03,216.90 458.92,221.65 461.00,227.00 C463.08,232.35 465.22,239.00 467.30,244.50 C469.38,250.00 471.27,254.65 473.50,260.00 C475.73,265.35 477.95,272.02 480.70,276.60 C483.45,281.18 487.30,285.48 490.00,287.50 C492.70,289.52 494.92,289.17 496.90,288.75 C498.88,288.33 499.63,286.84 501.90,285.00 C504.17,283.16 507.82,280.38 510.50,277.70 C513.18,275.02 515.50,271.40 518.00,268.90 C520.50,266.40 523.00,264.37 525.50,262.70 C528.00,261.03 530.50,259.58 533.00,258.90 C535.50,258.22 537.53,258.05 540.50,258.60 C543.47,259.15 547.35,260.40 550.80,262.20 C554.25,264.00 557.75,266.98 561.20,269.40 C564.65,271.82 568.05,274.63 571.50,276.70 C574.95,278.77 578.45,280.60 581.90,281.80 C585.35,283.00 589.10,283.58 592.20,283.90 C595.30,284.22 596.97,284.63 600.50,283.70 C604.03,282.77 609.08,280.38 613.40,278.30 C617.72,276.22 622.08,274.00 626.40,271.20 C630.72,268.40 635.00,264.42 639.30,261.50 C643.60,258.58 648.67,255.53 652.20,253.70 C655.73,251.87 657.40,251.35 660.50,250.50 C663.60,249.65 667.57,248.70 670.80,248.60 C674.03,248.50 676.23,248.40 679.90,249.90 C683.57,251.40 688.48,254.15 692.80,257.60 C697.12,261.05 701.70,266.60 705.80,270.60 C709.90,274.60 714.12,278.90 717.40,281.60 C720.68,284.30 722.98,285.73 725.50,286.80 C728.02,287.88 731.33,287.84 732.50,288.05" stroke="#000" stroke-width="3.4" fill="none" stroke-dasharray="4.6 2.6"/>
<path d="M574.5,92.9 L571.7,113.8" stroke="#28399a" stroke-width="2.8"/>
<path d="M563.1,113.1 L578.4,115.2 L566.1,138.2 Z" fill="#28399a"/>
<path d="M438.5,77 H472" stroke="#16679a" stroke-width="1.7"/><circle cx="454.5" cy="77" r="4.5" fill="#16679a"/>
<path d="M438.5,100.5 H472" stroke="#6a0fd8" stroke-width="1.7"/><circle cx="454.5" cy="100.5" r="4.5" fill="#6a0fd8"/>
<path d="M513,199.5 H546" stroke="#6b3e0c" stroke-width="3"/>
<path d="M512.5,222.3 H546" stroke="#000" stroke-width="3" stroke-dasharray="4.2 2.6"/>
<text x="61.30" y="55.40" font-size="18.50" text-anchor="end" font-weight="normal" font-style="normal" fill="#000" stroke="#000" stroke-width="0.35" font-family="Liberation Sans, sans-serif" >140</text>
<text x="61.30" y="87.90" font-size="18.50" text-anchor="end" font-weight="normal" font-style="normal" fill="#000" stroke="#000" stroke-width="0.35" font-family="Liberation Sans, sans-serif" >120</text>
<text x="61.30" y="122.80" font-size="18.50" text-anchor="end" font-weight="normal" font-style="normal" fill="#000" stroke="#000" stroke-width="0.35" font-family="Liberation Sans, sans-serif" >100</text>
<text x="61.30" y="159.80" font-size="18.50" text-anchor="end" font-weight="normal" font-style="normal" fill="#000" stroke="#000" stroke-width="0.35" font-family="Liberation Sans, sans-serif" >80</text>
<text x="61.30" y="194.60" font-size="18.50" text-anchor="end" font-weight="normal" font-style="normal" fill="#000" stroke="#000" stroke-width="0.35" font-family="Liberation Sans, sans-serif" >60</text>
<text x="61.30" y="230.90" font-size="18.50" text-anchor="end" font-weight="normal" font-style="normal" fill="#000" stroke="#000" stroke-width="0.35" font-family="Liberation Sans, sans-serif" >40</text>
<text x="61.30" y="265.80" font-size="18.50" text-anchor="end" font-weight="normal" font-style="normal" fill="#000" stroke="#000" stroke-width="0.35" font-family="Liberation Sans, sans-serif" >20</text>
<text x="61.30" y="299.50" font-size="18.50" text-anchor="end" font-weight="normal" font-style="normal" fill="#000" stroke="#000" stroke-width="0.35" font-family="Liberation Sans, sans-serif" >0</text>
<text x="111.60" y="324.20" font-size="18.00" text-anchor="middle" font-weight="normal" font-style="normal" fill="#000" stroke="#000" stroke-width="0.35" font-family="Liberation Sans, sans-serif" >1.0</text>
<text x="167.75" y="324.20" font-size="18.00" text-anchor="middle" font-weight="normal" font-style="normal" fill="#000" stroke="#000" stroke-width="0.35" font-family="Liberation Sans, sans-serif" >1.5</text>
<text x="222.90" y="324.20" font-size="18.00" text-anchor="middle" font-weight="normal" font-style="normal" fill="#000" stroke="#000" stroke-width="0.35" font-family="Liberation Sans, sans-serif" >2.0</text>
<text x="279.60" y="324.20" font-size="18.00" text-anchor="middle" font-weight="normal" font-style="normal" fill="#000" stroke="#000" stroke-width="0.35" font-family="Liberation Sans, sans-serif" >2.5</text>
<text x="334.40" y="324.20" font-size="18.00" text-anchor="middle" font-weight="normal" font-style="normal" fill="#000" stroke="#000" stroke-width="0.35" font-family="Liberation Sans, sans-serif" >3.0</text>
<text x="389.90" y="324.20" font-size="18.00" text-anchor="middle" font-weight="normal" font-style="normal" fill="#000" stroke="#000" stroke-width="0.35" font-family="Liberation Sans, sans-serif" >3.5</text>
<text x="441.40" y="325.20" font-size="18.00" text-anchor="middle" font-weight="normal" font-style="normal" fill="#000" stroke="#000" stroke-width="0.35" font-family="Liberation Sans, sans-serif" >1.0</text>
<text x="497.75" y="325.20" font-size="18.00" text-anchor="middle" font-weight="normal" font-style="normal" fill="#000" stroke="#000" stroke-width="0.35" font-family="Liberation Sans, sans-serif" >1.5</text>
<text x="552.50" y="325.20" font-size="18.00" text-anchor="middle" font-weight="normal" font-style="normal" fill="#000" stroke="#000" stroke-width="0.35" font-family="Liberation Sans, sans-serif" >2.0</text>
<text x="609.90" y="325.20" font-size="18.00" text-anchor="middle" font-weight="normal" font-style="normal" fill="#000" stroke="#000" stroke-width="0.35" font-family="Liberation Sans, sans-serif" >2.5</text>
<text x="663.90" y="325.20" font-size="18.00" text-anchor="middle" font-weight="normal" font-style="normal" fill="#000" stroke="#000" stroke-width="0.35" font-family="Liberation Sans, sans-serif" >3.0</text>
<text x="719.60" y="325.20" font-size="18.00" text-anchor="middle" font-weight="normal" font-style="normal" fill="#000" stroke="#000" stroke-width="0.35" font-family="Liberation Sans, sans-serif" >3.5</text>
<text x="170.30" y="349.25" font-size="18.50" text-anchor="start" font-weight="normal" font-style="normal" fill="#000" stroke="#000" stroke-width="0.35" font-family="Liberation Sans, sans-serif" textLength="165.50" lengthAdjust="spacingAndGlyphs" >Photon Energy (eV)</text>
<text x="501.60" y="351.75" font-size="18.50" text-anchor="start" font-weight="normal" font-style="normal" fill="#000" stroke="#000" stroke-width="0.35" font-family="Liberation Sans, sans-serif" textLength="165.50" lengthAdjust="spacingAndGlyphs" >Photon Energy (eV)</text>
<text x="163.75" y="84.20" font-size="17.50" text-anchor="start" font-weight="normal" font-style="normal" fill="#000" stroke="#000" stroke-width="0.35" font-family="Liberation Sans, sans-serif" textLength="29.25" lengthAdjust="spacingAndGlyphs" >EQE</text>
<text x="162.90" y="104.20" font-size="17.50" text-anchor="start" font-weight="normal" font-style="normal" fill="#000" stroke="#000" stroke-width="0.35" font-family="Liberation Sans, sans-serif" textLength="170.00" lengthAdjust="spacingAndGlyphs" >Modeled Absorptance</text>
<text x="84.00" y="149.30" font-size="16.00" text-anchor="start" font-weight="bold" font-style="normal" fill="#000" stroke="#000" stroke-width="0" font-family="Liberation Sans, sans-serif" textLength="72.50" lengthAdjust="spacingAndGlyphs" >Bandgap</text>
<text x="84.00" y="170.80" font-size="16.00" text-anchor="start" font-weight="bold" font-style="normal" fill="#000" stroke="#000" stroke-width="0" font-family="Liberation Sans, sans-serif" textLength="59.25" lengthAdjust="spacingAndGlyphs" >0.72 eV</text>
<text x="233.00" y="281.60" font-size="16.50" text-anchor="start" font-weight="normal" font-style="normal" fill="#000" stroke="#000" stroke-width="0.35" font-family="Liberation Sans, sans-serif" textLength="79.50" lengthAdjust="spacingAndGlyphs" >d = 5.6 nm</text>
<text x="481.50" y="82.90" font-size="17.50" text-anchor="start" font-weight="normal" font-style="normal" fill="#000" stroke="#000" stroke-width="0.35" font-family="Liberation Sans, sans-serif" textLength="25.00" lengthAdjust="spacingAndGlyphs" >IQE</text>
<text x="480.60" y="107.00" font-size="17.50" text-anchor="start" font-weight="normal" font-style="normal" fill="#000" stroke="#000" stroke-width="0.35" font-family="Liberation Sans, sans-serif" textLength="71.50" lengthAdjust="spacingAndGlyphs" >EQE/(1-R)</text>
<text x="552.50" y="205.90" font-size="17.50" text-anchor="start" font-weight="normal" font-style="normal" fill="#000" stroke="#000" stroke-width="0.35" font-family="Liberation Sans, sans-serif" textLength="87.00" lengthAdjust="spacingAndGlyphs" >Reflectance</text>
<text x="552.00" y="229.50" font-size="17.50" text-anchor="start" font-weight="normal" font-style="normal" fill="#000" stroke="#000" stroke-width="0.35" font-family="Liberation Sans, sans-serif" textLength="159.50" lengthAdjust="spacingAndGlyphs" >Modeled Reflectance</text>
<g font-family="Liberation Sans, sans-serif" fill="#000" stroke="#f2f2f2" stroke-width="1.2" paint-order="stroke" font-size="18">
<text x="560" y="86" font-weight="bold" font-style="italic">h</text>
<text x="570.6" y="86" font-size="17">&#957;</text>
<text x="583.2" y="86" font-weight="bold">=</text>
<text x="598.5" y="86" font-weight="bold">3</text>
<text x="611.5" y="86" font-weight="bold" font-style="italic">E</text>
<text x="621.5" y="92.5" font-weight="bold" font-size="11">g</text>
</g>
</svg>
</body></html>
